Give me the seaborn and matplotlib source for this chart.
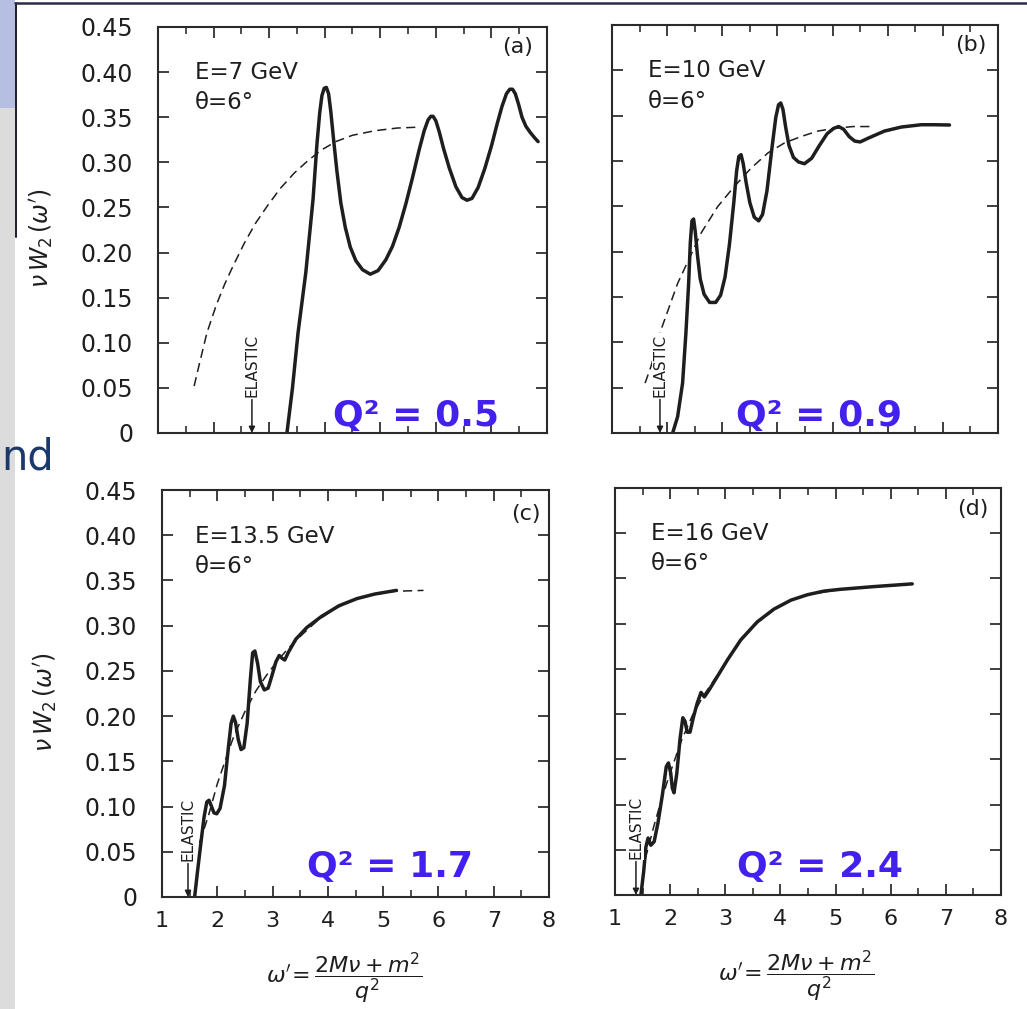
import numpy as np
import pandas as pd
import matplotlib
matplotlib.use("Agg")
import matplotlib.pyplot as plt
from matplotlib.patches import Rectangle
from matplotlib.lines import Line2D
import seaborn as sns

# ---------------------------------------------------------------- data
panel_tags = ["(a)", "(b)", "(c)", "(d)"]
beam_energy = ["E=7 GeV", "E=10 GeV", "E=13.5 GeV", "E=16 GeV"]
scatter_angle = ["θ=6°", "θ=6°", "θ=6°", "θ=6°"]
q2_labels = ["Q² = 0.5", "Q² = 0.9", "Q² = 1.7", "Q² = 2.4"]
elastic_omega = [2.69, 1.87, 1.47, 1.38]

y_ticks = [0.0, 0.05, 0.10, 0.15, 0.20, 0.25, 0.30, 0.35, 0.40, 0.45]
y_tick_labels = ["0", "0.05", "0.10", "0.15", "0.20", "0.25", "0.30", "0.35", "0.40", "0.45"]
x_ticks = [1, 2, 3, 4, 5, 6, 7, 8]
x_tick_labels = ["1", "2", "3", "4", "5", "6", "7", "8"]
x_minor = [1.5, 2.5, 3.5, 4.5, 5.5, 6.5, 7.5]

# (a) E = 7 GeV
a_solid_x = [3.32, 3.42, 3.52, 3.66, 3.79, 3.86, 3.91, 3.95, 3.99, 4.03, 4.07, 4.11, 4.16,
             4.22, 4.29, 4.37, 4.46, 4.56, 4.68, 4.82, 4.96, 5.10, 5.22, 5.34, 5.46, 5.58,
             5.70, 5.79, 5.86, 5.91, 5.95, 6.00, 6.06, 6.14, 6.24, 6.36, 6.47, 6.56, 6.65,
             6.76, 6.88, 7.00, 7.10, 7.19, 7.27, 7.33, 7.38, 7.43, 7.49, 7.55, 7.62, 7.70,
             7.78, 7.84]
a_solid_y = [0.000, 0.050, 0.111, 0.178, 0.259, 0.320, 0.355, 0.374, 0.382, 0.383, 0.376,
             0.356, 0.325, 0.290, 0.255, 0.228, 0.206, 0.191, 0.181, 0.176, 0.180, 0.192,
             0.207, 0.228, 0.254, 0.283, 0.314, 0.335, 0.347, 0.351, 0.351, 0.346, 0.334,
             0.315, 0.294, 0.273, 0.261, 0.258, 0.260, 0.272, 0.293, 0.318, 0.342, 0.362,
             0.376, 0.381, 0.381, 0.376, 0.364, 0.350, 0.340, 0.333, 0.327, 0.323]
a_dash_x = [1.65, 1.75, 1.88, 2.05, 2.20, 2.35, 2.55, 2.75, 2.96, 3.20, 3.45, 3.70, 3.95,
            4.20, 4.50, 4.90, 5.30, 5.70]
a_dash_y = [0.052, 0.078, 0.111, 0.142, 0.165, 0.185, 0.210, 0.232, 0.251, 0.271, 0.288,
            0.302, 0.314, 0.323, 0.330, 0.335, 0.338, 0.339]

# (b) E = 10 GeV
b_solid_x = [2.10, 2.19, 2.28, 2.34, 2.39, 2.42, 2.45, 2.48, 2.51, 2.55, 2.60, 2.67, 2.77,
             2.88, 2.97, 3.05, 3.13, 3.21, 3.26, 3.30, 3.34, 3.38, 3.43, 3.50, 3.58, 3.66,
             3.73, 3.81, 3.90, 3.97, 4.02, 4.06, 4.10, 4.15, 4.21, 4.29, 4.38, 4.49, 4.62,
             4.76, 4.90, 5.02, 5.11, 5.20, 5.30, 5.40, 5.50, 5.64, 5.94, 6.25, 6.61, 6.85,
             7.12]
b_solid_y = [0.000, 0.018, 0.055, 0.110, 0.165, 0.210, 0.234, 0.236, 0.222, 0.196, 0.170,
             0.153, 0.144, 0.144, 0.152, 0.172, 0.208, 0.255, 0.289, 0.305, 0.307, 0.297,
             0.277, 0.254, 0.238, 0.234, 0.241, 0.267, 0.314, 0.348, 0.362, 0.364, 0.357,
             0.337, 0.317, 0.304, 0.299, 0.297, 0.303, 0.317, 0.330, 0.336, 0.338, 0.335,
             0.327, 0.322, 0.321, 0.325, 0.333, 0.3375, 0.340, 0.340, 0.3397]
b_dash_x = [1.60, 1.71, 1.89, 2.19, 2.62, 2.92, 3.22, 3.52, 3.83, 4.13, 4.43, 4.73, 5.04,
            5.37, 5.70]
b_dash_y = [0.055, 0.074, 0.114, 0.165, 0.221, 0.250, 0.272, 0.292, 0.309, 0.320, 0.327,
            0.333, 0.336, 0.338, 0.338]

# (c) E = 13.5 GeV
c_solid_x = [1.59, 1.64, 1.70, 1.76, 1.81, 1.85, 1.89, 1.94, 1.99, 2.05, 2.13, 2.20, 2.25,
             2.29, 2.33, 2.38, 2.43, 2.48, 2.54, 2.60, 2.64, 2.68, 2.73, 2.78, 2.85, 2.92,
             2.99, 3.06, 3.12, 3.17, 3.22, 3.29, 3.42, 3.62, 3.88, 4.20, 4.53, 4.85, 5.24]
c_solid_y = [0.000, 0.027, 0.058, 0.088, 0.105, 0.107, 0.101, 0.093, 0.092, 0.098, 0.123,
             0.165, 0.192, 0.200, 0.193, 0.174, 0.163, 0.165, 0.192, 0.242, 0.270, 0.272,
             0.258, 0.238, 0.229, 0.231, 0.245, 0.260, 0.267, 0.264, 0.262, 0.271, 0.285,
             0.298, 0.310, 0.322, 0.330, 0.335, 0.339]
c_dash_x = [1.68, 1.85, 2.00, 2.15, 2.30, 2.50, 2.70, 2.90, 3.10, 3.30, 3.55, 3.80, 4.10,
            4.40, 4.80, 5.20, 5.73]
c_dash_y = [0.060, 0.092, 0.125, 0.152, 0.178, 0.205, 0.228, 0.246, 0.262, 0.276, 0.291,
            0.305, 0.318, 0.327, 0.334, 0.338, 0.339]

# (d) E = 16 GeV
d_solid_x = [1.47, 1.52, 1.56, 1.60, 1.65, 1.71, 1.78, 1.86, 1.93, 1.97, 2.01, 2.04, 2.07,
             2.12, 2.18, 2.23, 2.27, 2.31, 2.36, 2.42, 2.49, 2.56, 2.62, 2.71, 2.86, 3.04,
             3.28, 3.58, 3.88, 4.19, 4.49, 4.79, 5.09, 5.70, 6.39]
d_solid_y = [0.000, 0.026, 0.053, 0.063, 0.055, 0.059, 0.080, 0.111, 0.142, 0.146, 0.135,
             0.118, 0.113, 0.134, 0.173, 0.196, 0.192, 0.180, 0.180, 0.196, 0.212, 0.224,
             0.219, 0.227, 0.242, 0.260, 0.282, 0.302, 0.316, 0.326, 0.332, 0.336, 0.338,
             0.341, 0.344]
d_dash_x = [1.55, 1.70, 1.85, 2.00, 2.20, 2.40, 2.60, 2.80, 3.00, 3.30, 3.60, 3.90, 4.20,
            4.50, 5.00, 5.50, 6.00, 6.30]
d_dash_y = [0.040, 0.075, 0.107, 0.135, 0.170, 0.198, 0.220, 0.238, 0.256, 0.283, 0.302,
            0.316, 0.326, 0.332, 0.337, 0.340, 0.342, 0.343]

solid_x = [a_solid_x, b_solid_x, c_solid_x, d_solid_x]
solid_y = [a_solid_y, b_solid_y, c_solid_y, d_solid_y]
dash_x = [a_dash_x, b_dash_x, c_dash_x, d_dash_x]
dash_y = [a_dash_y, b_dash_y, c_dash_y, d_dash_y]

# ---------------------------------------------------------------- style
sns.set_theme(style="ticks")
plt.rcParams["font.family"] = ["DejaVu Sans"]
plt.rcParams["mathtext.fontset"] = "dejavusans"

W, H = 1027, 1009
fig = plt.figure(figsize=(W / 100, H / 100), dpi=100, facecolor="white")

# slide remnants around the scanned figure
fig.add_artist(Rectangle((0, 0), 15 / W, 1 - 108 / H, transform=fig.transFigure,
                         color="#dcdcdc", lw=0, zorder=0))
fig.add_artist(Rectangle((0, 1 - 108 / H), 15 / W, 108 / H, transform=fig.transFigure,
                         color="#b6bee2", lw=0, zorder=0))
fig.add_artist(Line2D([15.5 / W, 15.5 / W], [1 - 3 / H, 1 - 237 / H],
                      transform=fig.transFigure, color="#1c1c28", lw=1.4))
fig.add_artist(Line2D([15 / W, 1], [1 - 3 / H, 1 - 3 / H],
                      transform=fig.transFigure, color="#2b2d45", lw=1.8))
fig.text(1 / W, 1 - 470 / H, "nd", ha="left", va="baseline", fontsize=30,
         color="#1b3a6b")

# axes boxes (left, bottom, width, height) in pixels
boxes = [(158, 433, 389, 406), (612, 433, 386, 408), (162, 897, 387, 407), (615, 895, 386, 407)]

tag_pos = [(7.75, 0.428), (7.79, 0.428), (7.85, 0.423), (7.78, 0.427)]
e_pos = [(1.67, 0.400), (1.65, 0.400), (1.60, 0.399), (1.65, 0.400)]
q2_pos = [(4.15, 0.008), (3.25, 0.008), (3.62, 0.022), (3.22, 0.020)]
blue = "#4320ee"
ink = "#1e1e1e"

for i in range(4):
    l, b, w, h = boxes[i]
    ax = fig.add_axes([l / W, 1 - b / H, w / W, h / H])
    ax.set_facecolor("white")

    dfs = pd.DataFrame({"omega": solid_x[i], "nuW2": solid_y[i]})
    dfd = pd.DataFrame({"omega": dash_x[i], "nuW2": dash_y[i]})
    sns.lineplot(data=dfd, x="omega", y="nuW2", ax=ax, sort=False, estimator=None,
                 color=ink, linewidth=1.1, linestyle=(0, (6, 3.5)))
    sns.lineplot(data=dfs, x="omega", y="nuW2", ax=ax, sort=False, estimator=None,
                 color=ink, linewidth=2.5, solid_joinstyle="round",
                 solid_capstyle="round")

    ax.set_xlim(1, 8)
    ax.set_ylim(0, 0.45)
    ax.set_xticks(x_ticks)
    ax.set_xticks(x_minor, minor=True)
    ax.set_yticks(y_ticks)
    ax.tick_params(axis="both", which="major", direction="in", top=True, right=True,
                   length=8, width=1.2, color=ink, labelcolor=ink)
    ax.tick_params(axis="x", which="minor", direction="in", top=True, bottom=True,
                   length=5, width=1.1, color=ink)
    for s in ax.spines.values():
        s.set_linewidth(1.5)
        s.set_color("#2a2a2a")

    if i in (0, 2):
        ax.set_yticklabels(y_tick_labels, fontsize=17)
        ax.tick_params(axis="y", pad=18)
        ax.set_ylabel(r"$\nu\,W_2\,(\omega')$", fontsize=17, color=ink)
        ax.yaxis.set_label_coords(-0.265, 0.48)
    else:
        ax.set_yticklabels([])
        ax.set_ylabel("")
    if i in (2, 3):
        ax.set_xticklabels(x_tick_labels, fontsize=16)
        ax.tick_params(axis="x", pad=10)
        ax.set_xlabel(r"$\omega'\!=\dfrac{2M\nu+m^2}{q^2}$", fontsize=16, color=ink)
        ax.xaxis.set_label_coords(0.47, -0.13)
    else:
        ax.set_xticklabels([])
        ax.set_xlabel("")

    ax.text(tag_pos[i][0], tag_pos[i][1], panel_tags[i], ha="right", va="center",
            fontsize=16, color=ink)
    ax.text(e_pos[i][0], e_pos[i][1], beam_energy[i], ha="left", va="center",
            fontsize=16.5, color=ink)
    ax.text(e_pos[i][0], e_pos[i][1] - 0.034, scatter_angle[i], ha="left", va="center",
            fontsize=16.5, color=ink)
    ax.text(q2_pos[i][0], q2_pos[i][1], q2_labels[i], ha="left", va="baseline",
            fontsize=26, fontweight="bold", color=blue, zorder=6)

    xe = elastic_omega[i]
    ax.annotate("", xy=(xe, 0.0), xytext=(xe, 0.037),
                arrowprops=dict(arrowstyle="-|>", color=ink, lw=1.1, mutation_scale=9,
                                shrinkA=0, shrinkB=0), zorder=5)
    ax.text(xe, 0.040, "ELASTIC", rotation=90, ha="center", va="bottom", fontsize=11,
            family=["Liberation Sans Narrow", "DejaVu Sans"], color=ink, zorder=5,
            bbox=dict(facecolor="white", edgecolor="none", pad=0.6))

fig.savefig("out.png", dpi=100, facecolor=fig.get_facecolor())
